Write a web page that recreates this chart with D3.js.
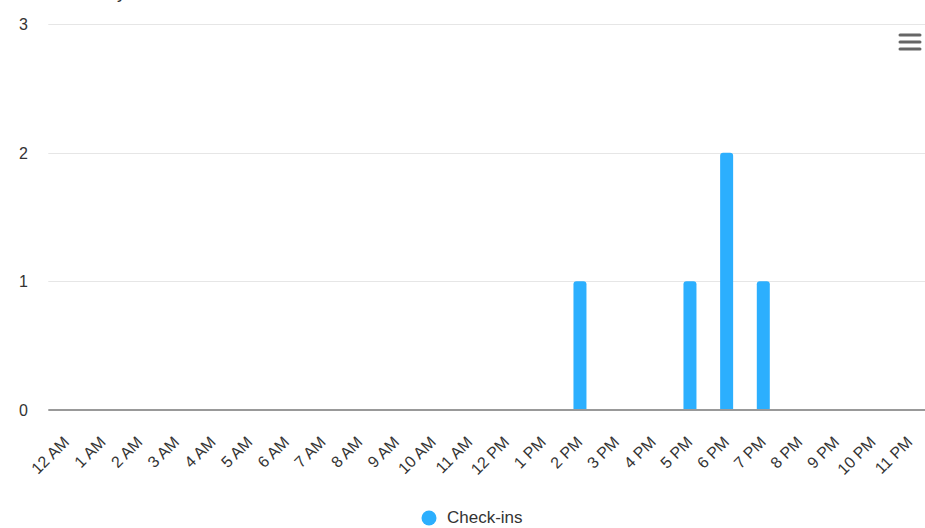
<!DOCTYPE html>
<html><head><meta charset="utf-8">
<script src="https://cdn.jsdelivr.net/npm/d3@7/dist/d3.min.js"></script>
<style>body{margin:0;background:#fff;font-family:"Liberation Sans",Arial,sans-serif;}svg{display:block}</style>
</head><body><svg id="c" width="925" height="528"></svg>
<script>
const categories = ["12 AM","1 AM","2 AM","3 AM","4 AM","5 AM","6 AM","7 AM","8 AM","9 AM","10 AM","11 AM","12 PM","1 PM","2 PM","3 PM","4 PM","5 PM","6 PM","7 PM","8 PM","9 PM","10 PM","11 PM"];
const checkins = [0,0,0,0,0,0,0,0,0,0,0,0,0,0,1,0,0,1,2,1,0,0,0,0];
const yTicks = [0,1,2,3];
const seriesName = "Check-ins";
const titleText = "Activity";

const svg = d3.select("#c");
const W = 925, H = 528;
const m = {left:48.3, right:928.3, top:24, bottom:410};
const x = d3.scaleBand().domain(categories).range([m.left, m.right]).paddingInner(0).paddingOuter(0);
const y = d3.scaleLinear().domain([0,3]).range([m.bottom, m.top]);

// title (mostly cut off above)
svg.append("text").attr("x",126).attr("y",-2).attr("text-anchor","end")
  .attr("font-size",18).attr("fill","#333").text(titleText);

// grid
svg.append("g").selectAll("line").data(yTicks.filter(d=>d>0)).join("line")
  .attr("x1",m.left).attr("x2",W).attr("y1",d=>Math.round(y(d))+0.5).attr("y2",d=>Math.round(y(d))+0.5)
  .attr("stroke","#e6e6e6").attr("stroke-width",1);

// y labels
svg.append("g").selectAll("text").data(yTicks).join("text")
  .attr("x",28).attr("y",d=>y(d)+6).attr("text-anchor","end")
  .attr("font-size",16).attr("fill","#333").text(d=>d);

// bars
const bw = 13, r = 3;
svg.append("g").selectAll("path").data(categories.map((c,i)=>({c,v:checkins[i]})).filter(d=>d.v>0)).join("path")
  .attr("d",d=>{
    const cx = x(d.c)+x.bandwidth()/2, x0 = cx-bw/2, x1 = cx+bw/2, yt = y(d.v), yb = y(0);
    return `M${x0},${yb}L${x0},${yt+r}Q${x0},${yt} ${x0+r},${yt}L${x1-r},${yt}Q${x1},${yt} ${x1},${yt+r}L${x1},${yb}Z`;
  })
  .attr("fill","#2caffe");

// x axis line
svg.append("line").attr("x1",m.left).attr("x2",W).attr("y1",y(0)).attr("y2",y(0))
  .attr("stroke","#999").attr("stroke-width",2);

// x labels
svg.append("g").selectAll("text").data(categories).join("text")
  .attr("transform",d=>`translate(${x(d)+x.bandwidth()/2+3.5},${443}) rotate(-45)`)
  .attr("text-anchor","end").attr("font-size",16).attr("fill","#333").text(d=>d);

// legend
svg.append("circle").attr("cx",429).attr("cy",518).attr("r",7.5).attr("fill","#2caffe");
svg.append("text").attr("x",447).attr("y",523).attr("font-size",17).attr("fill","#333").text(seriesName);

// menu icon
svg.append("g").selectAll("line").data([35,42,49]).join("line")
  .attr("x1",900).attr("x2",920).attr("y1",d=>d).attr("y2",d=>d)
  .attr("stroke","#666").attr("stroke-width",3).attr("stroke-linecap","round");
</script></body></html>
